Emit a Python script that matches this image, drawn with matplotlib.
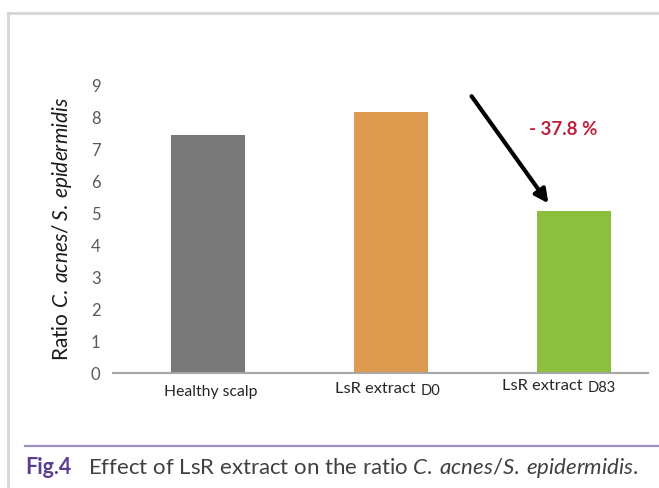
import numpy as np
import matplotlib.pyplot as plt
from matplotlib.lines import Line2D

categories = ['Healthy scalp', 'LsR extract', 'LsR extract']
suffixes = ['', 'D0', 'D83']
values = [7.45, 8.15, 5.07]
colors = ['#787878', '#dd9a4e', '#8dbf3e']
yticks = list(range(0, 10))
change_label = '- 37.8 %'

plt.rcParams['font.family'] = ['Lato', 'DejaVu Sans']
plt.rcParams['mathtext.fontset'] = 'custom'
plt.rcParams['mathtext.rm'] = 'Lato'
plt.rcParams['mathtext.it'] = 'Lato:italic'

W, H = 659, 488
fig = plt.figure(figsize=(W / 100, H / 100), dpi=100)

# frame and caption rule
fig.add_artist(Line2D([8 / W, 1], [1 - 13 / H, 1 - 13 / H], color='#d6d6d6', lw=2))
fig.add_artist(Line2D([8 / W, 8 / W], [0, 1 - 13 / H], color='#d6d6d6', lw=2))
fig.add_artist(Line2D([25 / W, 1], [1 - 446 / H, 1 - 446 / H], color='#9d8fc6', lw=1.6))

ax = fig.add_axes([113 / W, (H - 373) / H, 535 / W, 288 / H])
x = np.arange(len(values))
ax.bar(x, values, width=0.4, color=colors, zorder=2)
ax.set_xlim(-0.519, 2.404)
ax.set_ylim(0, 9)
ax.set_yticks(yticks)
ax.tick_params(axis='y', length=0, labelsize=12, labelcolor='#5a5a5a', pad=9)
ax.tick_params(axis='x', length=0)
ax.set_xticks(x)
ax.set_xticklabels([''] * len(x))
for s in ['top', 'right', 'left']:
    ax.spines[s].set_visible(False)
ax.spines['bottom'].set_color('#a6a6a6')
ax.spines['bottom'].set_linewidth(1.5)

# category labels with small suffix (offsets in points from the bar centre)
main_dx = [0, -40, -52]
suf_dx = [0, 21.5, 10]
dy = [-13.7, -11.5, -9.4]
for i, (c, s) in enumerate(zip(categories, suffixes)):
    if s:
        ax.annotate(c, xy=(i, 0), xytext=(main_dx[i], dy[i]), textcoords='offset points',
                    ha='left', va='center', fontsize=11.8, color='#262626')
        ax.annotate(s, xy=(i, 0), xytext=(suf_dx[i], dy[i] - 1.5), textcoords='offset points',
                    ha='left', va='center', fontsize=10.5, color='#262626')
    else:
        ax.annotate(c, xy=(i, 0), xytext=(2, dy[i]), textcoords='offset points',
                    ha='center', va='center', fontsize=11.3, color='#262626')

ax.set_ylabel(r'Ratio $\mathit{C.\:acnes/\:S.\:epidermidis}$', fontsize=15,
              color='#1a1a1a', labelpad=12)

ax.annotate('', xy=(1.86, 5.3), xytext=(1.44, 8.65),
            arrowprops=dict(arrowstyle='-|>,head_length=0.8,head_width=0.4',
                            color='black', lw=3, shrinkA=0, shrinkB=0))
ax.text(1.94, 7.6, change_label, color='#c1203a', fontsize=13.5, fontweight='bold',
        ha='center', va='center')

fig.text(25 / W, 1 - 467 / H, 'Fig.4', color='#5b3f94', fontsize=15.5, fontweight='bold',
         va='center')
fig.text(88 / W, 1 - 468 / H,
         r'Effect of LsR extract on the ratio $\mathit{C.\:acnes/S.\:epidermidis}$.',
         color='#404040', fontsize=16, va='center')

fig.savefig('out.png', dpi=100)
